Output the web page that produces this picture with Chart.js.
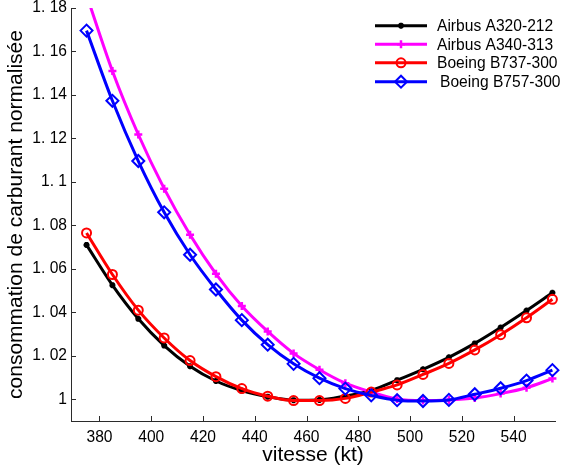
<!DOCTYPE html>
<html>
<head>
<meta charset="utf-8">
<script src="https://cdn.jsdelivr.net/npm/chart.js@4/dist/chart.umd.min.js"></script>
<style>
html,body{margin:0;padding:0;background:#fff;}
canvas{display:block;}
</style>
</head>
<body>
<canvas id="c" width="563" height="470"></canvas>
<script>
const speeds = [375,385,395,405,415,425,435,445,455,465,475,485,495,505,515,525,535,545,555];
const a320 = [1.071,1.0525,1.037,1.0247,1.0152,1.0084,1.004,1.0012,0.9996,0.9997,1.0015,1.0041,1.0088,1.0138,1.0193,1.0257,1.033,1.0408,1.049];
const a340 = [1.186,1.151,1.1218,1.0969,1.0757,1.0577,1.0429,1.0312,1.0211,1.0136,1.0074,1.0033,1.0001,0.9994,0.9997,1.0006,1.0026,1.0053,1.0095];
const b737 = [1.0765,1.0574,1.041,1.0282,1.0178,1.0104,1.0049,1.0014,0.9994,0.9994,1.0004,1.0033,1.0066,1.0114,1.0165,1.0227,1.0297,1.0375,1.046];
const b757 = [1.1696,1.1373,1.1096,1.086,1.0665,1.0505,1.0364,1.0251,1.0163,1.0097,1.0049,1.0018,0.9996,0.9992,0.9997,1.0023,1.0051,1.0086,1.0134];
const seriesNames = ['Airbus A320-212','Airbus A340-313','Boeing B737-300','Boeing B757-300'];
const xTicks = [380,400,420,440,460,480,500,520,540];
const yTicks = [1,1.02,1.04,1.06,1.08,1.1,1.12,1.14,1.16,1.18];
const xTitle = 'vitesse (kt)';
const yTitle = 'consommation de carburant normalisée';

const FONT = '"Liberation Sans", Arial, sans-serif';
const AXIS = '#2b2b2b';

function pts(arr){ return speeds.map((s,i)=>({x:s,y:arr[i]})); }

const styles = [
  {color:'#000000', pointStyle:'star', radius:3, bw:2, order:4},
  {color:'#ff00ff', pointStyle:'cross', radius:4, bw:2.5, order:3},
  {color:'#ff0000', pointStyle:'circle', radius:4.5, bw:2, order:2},
  {color:'#0000ff', pointStyle:'rectRot', radius:6, bw:2, order:1}
];
const values = [a320,a340,b737,b757];

const datasets = values.map((v,i)=>({
  label: seriesNames[i],
  data: pts(v),
  borderColor: styles[i].color,
  backgroundColor: 'rgba(0,0,0,0)',
  borderWidth: 3,
  pointStyle: styles[i].pointStyle,
  pointRadius: styles[i].radius,
  pointBorderWidth: styles[i].bw,
  pointBorderColor: styles[i].color,
  pointBackgroundColor: 'rgba(0,0,0,0)',
  cubicInterpolationMode: 'monotone',
  order: styles[i].order,
  clip: {left: 0, top: 0, right: 8, bottom: 0}
}));

const decor = {
  id: 'decor',
  afterDatasetsDraw(chart){
    const ctx = chart.ctx;
    const xs = chart.scales.x, ys = chart.scales.y;
    const ca = chart.chartArea;
    ctx.save();
    ctx.strokeStyle = AXIS;
    ctx.lineWidth = 1;
    ctx.beginPath();
    xTicks.forEach(t=>{
      const px = Math.round(xs.getPixelForValue(t)) + 0.5;
      ctx.moveTo(px, ca.bottom); ctx.lineTo(px, ca.bottom - 5);
    });
    yTicks.forEach(t=>{
      const py = Math.round(ys.getPixelForValue(t)) + 0.5;
      ctx.moveTo(ca.left, py); ctx.lineTo(ca.left + 5, py);
    });
    ctx.stroke();

    // legend
    const rows = [25.7, 44.3, 62.8, 81.7];
    const textX = [437, 437, 437, 440];
    ctx.textBaseline = 'middle';
    ctx.textAlign = 'left';
    seriesNames.forEach((name,i)=>{
      const y = rows[i];
      ctx.strokeStyle = styles[i].color;
      ctx.lineWidth = 3;
      ctx.beginPath(); ctx.moveTo(375, y); ctx.lineTo(427, y); ctx.stroke();
      ctx.lineWidth = styles[i].bw;
      ctx.fillStyle = 'rgba(0,0,0,0)';
      Chart.helpers.drawPoint(ctx, {pointStyle: styles[i].pointStyle, radius: styles[i].radius, rotation: 0, borderWidth: styles[i].bw}, 401, y);
      ctx.fillStyle = '#000';
      ctx.font = '15.6px ' + FONT;
      ctx.fillText(name, textX[i], y + 1);
    });
    ctx.restore();
  }
};

new Chart(document.getElementById('c'), {
  type: 'line',
  data: { datasets },
  options: {
    responsive: false,
    animation: false,
    devicePixelRatio: 1,
    layout: { padding: { top: 5, right: 0, left: 0, bottom: 0 } },
    plugins: { legend: { display: false }, tooltip: { enabled: false } },
    scales: {
      x: {
        type: 'linear',
        min: 369, max: 556,
        position: 'bottom',
        afterBuildTicks(s){ s.ticks = xTicks.map(v=>({value:v})); },
        afterFit(s){ s.height = 49; s.paddingLeft = 0; s.paddingRight = 0; },
        grid: { display: false, drawTicks: false },
        border: { display: true, color: AXIS, width: 1 },
        ticks: { color: '#000', font: { family: FONT, size: 15.6 }, padding: 7, maxRotation: 0, autoSkip: false,
                 callback: v => String(v) },
        title: { display: true, text: xTitle, color: '#000', font: { family: FONT, size: 21 }, padding: { top: 0, bottom: 2 } }
      },
      y: {
        type: 'linear',
        min: 0.99, max: 1.18,
        afterBuildTicks(s){ s.ticks = yTicks.map(v=>({value:v})); },
        afterFit(s){ s.width = 71; s.paddingTop = 0; s.paddingBottom = 0; },
        grid: { display: false, drawTicks: false },
        border: { display: true, color: AXIS, width: 1 },
        ticks: { color: '#000', font: { family: FONT, size: 15.6 }, padding: 4, autoSkip: false,
                 callback: v => { const s = String(+(+v).toFixed(2)); return s.replace('.', '. '); } },
        title: { display: true, text: yTitle, color: '#000', font: { family: FONT, size: 21 }, padding: { top: 4, bottom: 0 } }
      }
    }
  },
  plugins: [decor]
});
</script>
</body>
</html>
